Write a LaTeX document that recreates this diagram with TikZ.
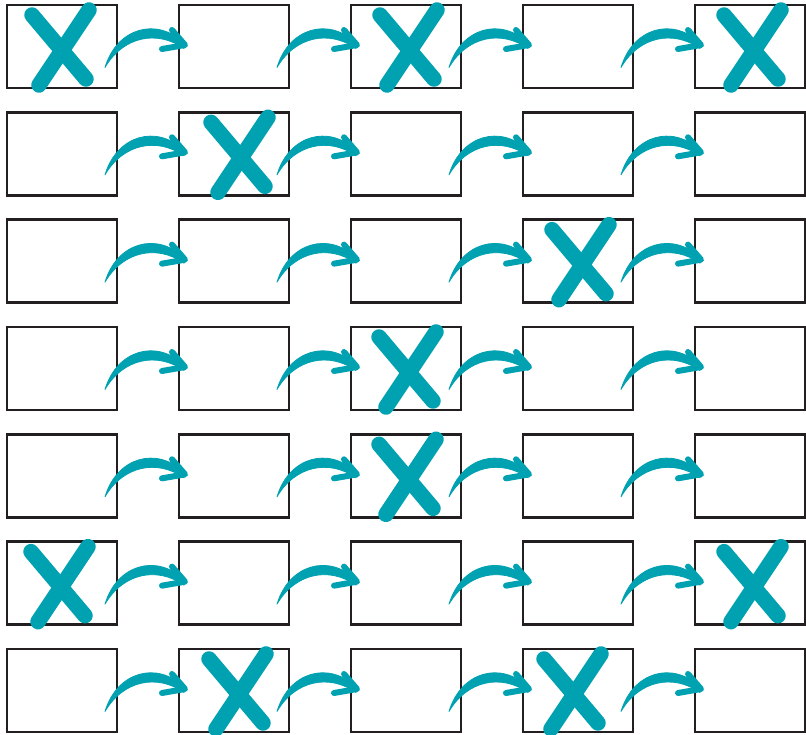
\documentclass[tikz,border=0pt]{standalone}
\usepackage{tikz}
\usetikzlibrary{calc}
\definecolor{ink}{HTML}{231F20}
\definecolor{markcolor}{HTML}{00A1B1}
\tikzset{
  cellbox/.style={
    draw=ink,
    line width=2.6pt,
    fill=white,
    minimum width=110pt,
    minimum height=83pt,
    inner sep=0pt,
    outer sep=0pt
  },
  swoosh/.style={fill=markcolor,draw=markcolor,line width=0.8pt,line join=round},
  barb/.style={draw=markcolor,line width=6pt,line cap=round,line join=round},
  crossmark/.style={draw=markcolor,line width=15.5pt,line cap=round}
}

\begin{document}
\begin{tikzpicture}[x=1pt,y=-1pt]
  \useasboundingbox (0,0) rectangle (806,734);
  % grid of boxes
  \foreach \row in {1,...,7}{
    \foreach \col in {1,...,5}{
      \node[cellbox] (cell-\row-\col) at ({62+172*(\col-1)},{46.5+107.33*(\row-1)}) {};
    }
  }
  % curved arrows between neighbours
  \foreach \row in {1,...,7}{
    \foreach \col in {1,...,4}{
      \pgfmathtruncatemacro{\nxt}{\col+1}
      \fill[swoosh] ($(cell-\row-\col.east)+(-12,21)$) .. controls +(12,-40) and +(-27,-26) .. ($(cell-\row-\nxt.west)+(5,-3.5)$)
        -- ($(cell-\row-\nxt.west)+(5,2)$) .. controls +(-27,-19) and +(18,-31) .. ($(cell-\row-\col.east)+(-12,21)$) -- cycle;
      \draw[barb] ($(cell-\row-\nxt.west)+(-7,-16.5)$) -- ($(cell-\row-\nxt.west)+(6,-1.5)$) -- ($(cell-\row-\nxt.west)+(-17,2.5)$);
    }
  }
  % crosses
  \foreach \row/\col/\shiftx in {1/1/-3,1/3/1,1/5/1,2/2/4,3/4/1,4/3/0,5/3/0,6/1/-4,6/5/1,7/2/2,7/4/-7}{
    \draw[crossmark] ($(cell-\row-\col.center)+(\shiftx-27,-31.5)$) -- ($(cell-\row-\col.center)+(\shiftx+27,32.5)$);
    \draw[crossmark] ($(cell-\row-\col.center)+(\shiftx+30,-36.5)$) -- ($(cell-\row-\col.center)+(\shiftx-20,38.5)$);
  }
\end{tikzpicture}
\end{document}
